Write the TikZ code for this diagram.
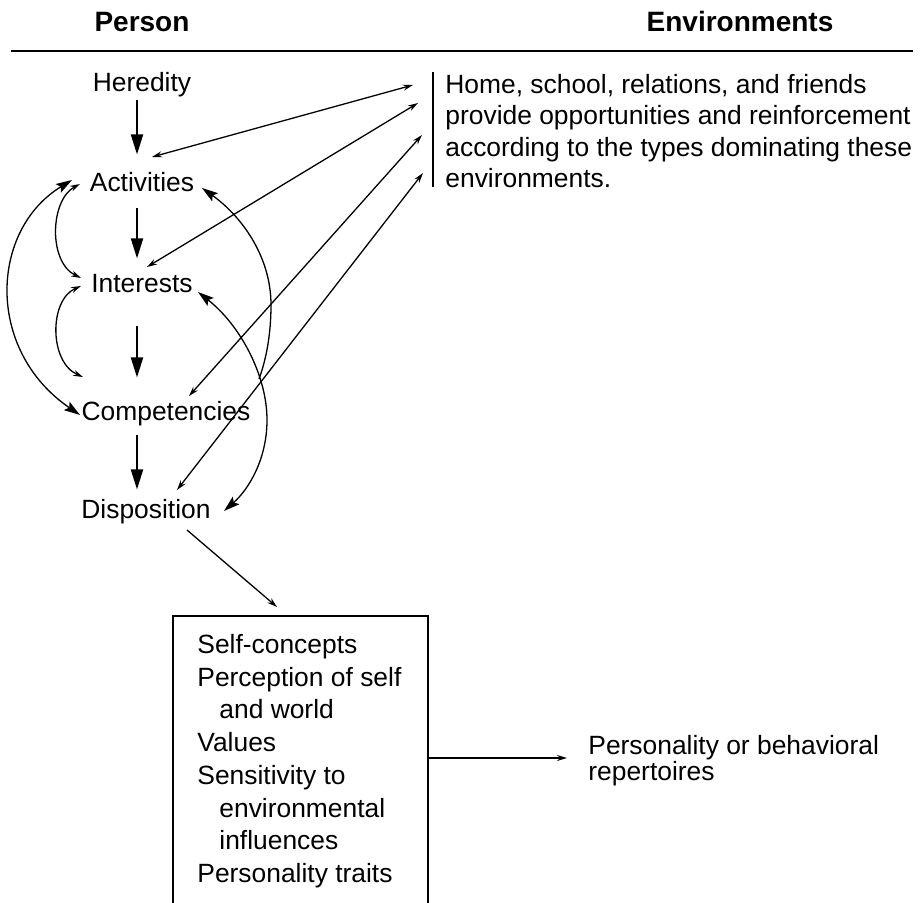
\documentclass[tikz,border=0pt]{standalone}
\usepackage{fontspec}
\setmainfont{Liberation Sans}
\usetikzlibrary{arrows.meta,calc}
\begin{document}
\begin{tikzpicture}[x=0.5pt,y=-0.5pt,
  lbl/.style={inner sep=0pt, font=\fontsize{13.2}{15.8}\selectfont},
  hdr/.style={inner sep=0pt, font=\fontsize{14}{16}\selectfont\bfseries},
  bigarr/.style={line width=1pt, -{Triangle[length=10pt,width=6pt]}},
  bighead/.style={line width=0.65pt, {Stealth[length=8pt,width=5pt,inset=1.5pt]}-{Stealth[length=8pt,width=5pt,inset=1.5pt]}},
  bigone/.style={line width=0.65pt, {Stealth[length=8pt,width=5pt,inset=1.5pt]}-},
  smallhead/.style={line width=0.65pt, {Stealth[length=5pt,width=3pt]}-{Stealth[length=5pt,width=3pt]}},
  onehead/.style={line width=0.65pt, -{Stealth[length=5pt,width=3pt]}},
  frame/.style={line width=0.9pt}
]
\useasboundingbox (0,0) rectangle (920,903);
\fill[white] (0,0) rectangle (920,903);

% headers
\node[hdr, anchor=base] (person) at (142,32) {Person};
\node[hdr, anchor=base] (envh) at (740,32) {Environments};
\draw[line width=1pt] (11,51) -- (913,51);

% person column
\node[lbl, anchor=base] (her) at (142,92) {Heredity};
\node[lbl, anchor=base] (act) at (142,192) {Activities};
\node[lbl, anchor=base] (int) at (142,293) {Interests};
\node[lbl, anchor=base] (comp) at (166,420) {Competencies};
\node[lbl, anchor=base] (disp) at (146,518) {Disposition};

\coordinate (ax) at (137,0);
\draw[bigarr, shorten <=1.25pt, shorten >=9pt] (her.south -| ax) -- (act.north -| ax);
\draw[bigarr, shorten <=7.5pt, shorten >=8pt] (act.south -| ax) -- (int.north -| ax);
\draw[bigarr, shorten <=16pt, shorten >=11.5pt] (int.south -| ax) -- (comp.north -| ax);
\draw[bigarr, shorten <=4.75pt, shorten >=4.5pt] (comp.south -| ax) -- (disp.north -| ax);

% environment text
\node[lbl, anchor=north west, align=left, font=\fontsize{13.2}{15.65}\selectfont] (env) at (445,74)
  {Home, school, relations, and friends\\provide opportunities and reinforcement\\according to the types dominating these\\environments.};
\coordinate (barT) at (433,72);
\coordinate (barB) at (433,187);
\draw[line width=0.8pt] (barT) -- (barB);

% end points of the straight connectors
\coordinate (e1) at (413,85);
\coordinate (e2) at (418,103);
\coordinate (e3) at (422,135);
\coordinate (e4) at (423,173);
\coordinate (a1) at (152,157);
\coordinate (i1) at (147,267);
\coordinate (c1) at (189,396);
\coordinate (d1) at (177,490);
\draw[smallhead] (a1) -- (e1);
\draw[smallhead] (i1) -- (e2);
\draw[smallhead] (c1) -- (e3);
\draw[smallhead] (d1) -- (e4);

% left curves
\coordinate (actL1) at (72,180);
\coordinate (compL) at (80,415);
\draw[bighead] (actL1) .. controls (-10,230) and (-15,350) .. (compL);
\coordinate (actL2) at (80,184);
\coordinate (intL1) at (81,278);
\draw[smallhead] (actL2) .. controls (50,200) and (48,262) .. (intL1);
\coordinate (intL2) at (81,286);
\coordinate (compL2) at (83,377);
\draw[smallhead] (intL2) .. controls (49,300) and (49,362) .. (compL2);

% right curves
\coordinate (actR) at (202,188);
\coordinate (compR) at (259,379);
\draw[bigone] (actR) .. controls (240,215) and (271,255) .. (271,305)
  .. controls (271,335) and (266,360) .. (compR);
\coordinate (intR) at (198,292);
\coordinate (dispR) at (224,511);
\draw[bighead] (intR) .. controls (240,325) and (267,375) .. (267,420)
  .. controls (267,460) and (248,490) .. (dispR);

% box
\coordinate (bSW) at (173,907);
\coordinate (bNW) at (173,616);
\coordinate (bNE) at (428,616);
\coordinate (bSE) at (428,907);
\draw[frame] (bSW) -- (bNW) -- (bNE) -- (bSE);
\node[lbl, anchor=north west, align=left, font=\fontsize{13.2}{16.35}\selectfont] (boxtxt) at (197,634)
  {Self-concepts\\Perception of self\\\hspace*{11pt}and world\\Values\\Sensitivity to\\\hspace*{11pt}environmental\\\hspace*{11pt}influences\\Personality traits};

\coordinate (dispOut) at (187,530);
\coordinate (boxIn) at (277,607);
\draw[onehead] (dispOut) -- (boxIn);

\node[lbl, anchor=north west, align=left, font=\fontsize{13.2}{13.2}\selectfont] (pers) at (588,735)
  {Personality or behavioral\\repertoires};
\coordinate (boxOut) at (428,758);
\coordinate (persIn) at (567,758);
\draw[onehead] (boxOut) -- (persIn);
\end{tikzpicture}
\end{document}
